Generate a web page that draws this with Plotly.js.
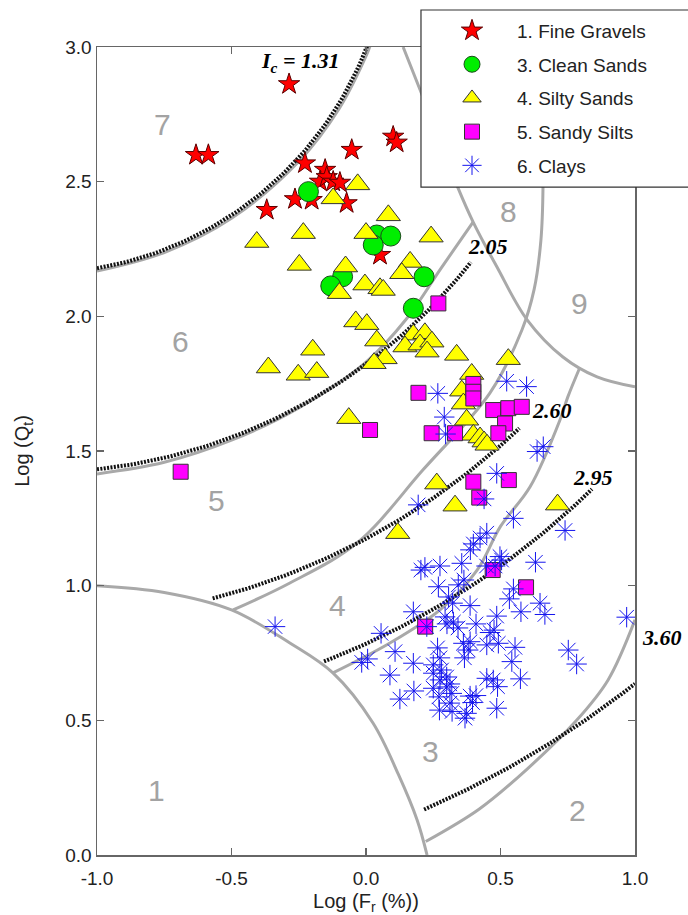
<!DOCTYPE html>
<html><head><meta charset="utf-8">
<script src="https://cdn.plot.ly/plotly-3.0.1.min.js"></script>
<style>html,body{margin:0;padding:0;background:#fff}#chart{width:688px;height:915px}</style>
</head><body><div id="chart"></div>
<script>
// ---- data ----
const gravelX = [-0.286,-0.632,-0.586,0.101,0.114,-0.053,-0.227,-0.152,-0.171,-0.146,-0.122,-0.097,-0.264,-0.202,-0.072,-0.369,0.052];
const gravelY = [2.862,2.599,2.599,2.667,2.645,2.618,2.568,2.544,2.500,2.517,2.500,2.496,2.435,2.432,2.420,2.395,2.228];

const cleanSandX = [-0.214,0.040,0.092,0.027,-0.087,-0.131,0.216,0.176];
const cleanSandY = [2.463,2.302,2.298,2.265,2.147,2.113,2.147,2.030];

const siltySandX = [-0.031,-0.122,-0.406,-0.233,0.083,0.0,0.242,-0.248,-0.076,0.164,0.133,-0.004,0.052,0.064,-0.099,-0.038,0.003,0.040,-0.198,-0.363,-0.252,-0.183,0.071,0.030,0.176,0.219,0.145,0.201,0.245,0.227,0.337,0.529,0.393,0.356,0.362,0.374,0.399,0.424,0.439,0.450,-0.064,0.263,0.331,0.118,0.712];
const siltySandY = [2.490,2.438,2.276,2.309,2.375,2.309,2.296,2.191,2.185,2.202,2.160,2.118,2.104,2.098,2.086,1.981,1.971,1.910,1.876,1.810,1.783,1.793,1.844,1.826,1.932,1.937,1.888,1.895,1.906,1.869,1.857,1.841,1.786,1.724,1.676,1.616,1.560,1.550,1.535,1.523,1.622,1.379,1.297,1.195,1.301];

const sandySiltX = [0.269,0.195,0.015,0.399,0.399,0.399,0.473,0.529,0.579,0.517,0.492,0.244,0.331,0.399,0.421,0.531,-0.689,0.471,0.595,0.220];
const sandySiltY = [2.048,1.716,1.578,1.749,1.720,1.695,1.652,1.659,1.664,1.602,1.566,1.566,1.566,1.386,1.327,1.392,1.423,1.058,0.994,0.848];

const clayX = [0.267,0.523,0.597,0.291,0.296,0.636,0.659,0.486,0.439,0.194,
  0.548,0.740,0.449,0.424,0.399,0.388,0.498,0.504,0.630,0.204,
  0.219,0.275,0.356,0.448,0.480,0.269,0.343,0.364,0.548,0.533,
  0.307,0.322,0.387,0.647,0.665,0.576,0.486,0.176,0.969,-0.338,
  0.056,0.294,0.301,0.325,0.342,0.409,0.461,0.476,0.226,0.387,
  0.492,0.554,0.752,0.783,0.542,-0.016,0.006,0.108,0.176,0.266,
  0.275,0.250,0.281,0.362,0.380,0.366,0.449,0.089,0.250,0.275,
  0.300,0.300,0.449,0.473,0.489,0.574,0.178,0.126,0.250,0.312,
  0.319,0.271,0.387,0.409,0.396,0.486,0.273,0.312,0.320,0.368,0.374];
const clayY = [1.714,1.759,1.739,1.626,1.563,1.498,1.516,1.417,1.322,1.300,
  1.250,1.205,1.195,1.177,1.155,1.133,1.108,1.095,1.087,1.058,
  1.068,1.073,1.083,1.073,1.073,0.996,1.003,1.021,0.988,0.951,
  0.958,0.935,0.926,0.935,0.893,0.903,0.887,0.903,0.883,0.848,
  0.823,0.884,0.858,0.865,0.843,0.858,0.826,0.835,0.848,0.792,
  0.786,0.771,0.761,0.709,0.718,0.715,0.728,0.755,0.712,0.769,
  0.732,0.706,0.687,0.786,0.761,0.732,0.780,0.668,0.675,0.650,
  0.661,0.624,0.656,0.650,0.625,0.654,0.609,0.579,0.619,0.635,
  0.600,0.587,0.590,0.592,0.566,0.545,0.538,0.564,0.533,0.508,0.526];

const seriesNames = ['1. Fine Gravels','3. Clean Sands','4. Silty Sands','5. Sandy Silts','6. Clays'];

// zone boundary curves
const zone7BoundX = [-1.0,-0.75,-0.5,-0.25,-0.1,0.0,0.015];
const zone7BoundY = [2.168,2.237,2.364,2.575,2.771,2.966,3.004];
const zone6BoundX = [-1.0,-0.75,-0.5,-0.25,0.0,0.15,0.28,0.398];
const zone6BoundY = [1.415,1.458,1.54,1.66,1.83,1.99,2.18,2.35];
const ncBoundX = [0.138,0.201,0.342,0.398,0.487,0.599,0.732,0.859,1.0];
const ncBoundY = [3.0,2.841,2.477,2.351,2.183,1.987,1.849,1.775,1.738];
const zone5BoundX = [-0.494,-0.283,-0.033,0.212,0.461,0.58,0.625,0.65,0.658,0.655];
const zone5BoundY = [0.91,1.01,1.159,1.43,1.716,1.95,2.1,2.28,2.48,2.7];
const zone4BoundX = [-0.123,0.089,0.275,0.413,0.5,0.61,0.721,0.75,0.795];
const zone4BoundY = [0.676,0.787,0.91,1.058,1.22,1.367,1.615,1.70,1.81];
const zone2BoundX = [0.222,0.42,0.6,0.783,0.90,1.0];
const zone2BoundY = [0.05,0.17,0.32,0.50,0.65,0.873];
const zone1BoundX = [-1.0,-0.75,-0.5,-0.283,-0.123,0.026,0.12,0.19,0.227];
const zone1BoundY = [1.0,0.975,0.91,0.787,0.676,0.49,0.30,0.13,0.0];

// Ic contour values and their drawn extents
const icValues = [1.31, 2.05, 2.60, 2.95, 3.60];
const icXStart = [-1.0, -1.0, -0.57, -0.156, 0.216];
const icXEnd   = [0.005, 0.39, 0.57, 0.84, 1.0];
const icLabels = ['<i>I<sub>c</sub></i> = 1.31','2.05','2.60','2.95','3.60'];
const icLabelX = [-0.245, 0.454, 0.691, 0.844, 1.10];
const icLabelY = [2.945, 2.261, 1.652, 1.400, 0.806];

const zoneLabels = ['1','2','3','4','5','6','7','8','9'];
const zoneLabelX = [-0.777,0.788,0.239,-0.107,-0.554,-0.691,-0.758,0.528,0.795];
const zoneLabelY = [0.241,0.167,0.384,0.928,1.318,1.907,2.711,2.388,2.049];

const xTicks = [-1.0,-0.5,0.0,0.5,1.0];
const yTicks = [0.0,0.5,1.0,1.5,2.0,2.5,3.0];

// ---- build ----
const traces = [];
const grayLine = {color:'#a9a9a9', width:3, shape:'spline'};
[[zone1BoundX,zone1BoundY],[zone2BoundX,zone2BoundY],[zone4BoundX,zone4BoundY],
 [zone5BoundX,zone5BoundY],[zone6BoundX,zone6BoundY],[zone7BoundX,zone7BoundY],
 [ncBoundX,ncBoundY]].forEach(b => {
  traces.push({x:b[0], y:b[1], mode:'lines', line:grayLine, showlegend:false, hoverinfo:'skip'});
});

icValues.forEach((ic, i) => {
  const xs = [], ys = [];
  const n = 80;
  for (let k = 0; k <= n; k++) {
    const x = icXStart[i] + (icXEnd[i] - icXStart[i]) * k / n;
    const d = ic*ic - (x + 1.22)*(x + 1.22);
    if (d < 0) continue;
    xs.push(x); ys.push(3.47 - Math.sqrt(d));
  }
  traces.push({x:xs, y:ys, mode:'lines', line:{color:'#111', width:4, dash:'2px,1.4px'}, showlegend:false, hoverinfo:'skip'});
});

const outline = {color:'#333', width:1};
traces.push({x:gravelX, y:gravelY, mode:'markers', name:seriesNames[0], legendgroup:'g1',
  marker:{symbol:'star', size:16, color:'#ff0000', line:{color:'#5a0000', width:1}}});
traces.push({x:cleanSandX, y:cleanSandY, mode:'markers', name:seriesNames[1], legendgroup:'g2',
  marker:{symbol:'circle', size:20, color:'#00ee00', line:{color:'#1a4d1a', width:1}}});
traces.push({x:siltySandX, y:siltySandY, mode:'markers', name:seriesNames[2], legendgroup:'g3',
  marker:{symbol:'triangle-up', size:21, color:'#ffff00', line:outline}});
traces.push({x:sandySiltX, y:sandySiltY, mode:'markers', name:seriesNames[3], legendgroup:'g4',
  marker:{symbol:'square', size:15, color:'#ff00ff', line:outline}});
traces.push({x:clayX, y:clayY, mode:'markers', name:seriesNames[4], legendgroup:'g5',
  marker:{symbol:'asterisk-open', size:17, color:'#1515ee', line:{color:'#1515ee', width:1}}});

const annotations = [];
zoneLabels.forEach((t,i) => annotations.push({x:zoneLabelX[i], y:zoneLabelY[i], xref:'x', yref:'y', text:t,
  showarrow:false, xanchor:'center', yanchor:'middle',
  font:{family:'Liberation Sans, Arial, sans-serif', size:30, color:'#a3a3a3'}}));
icLabels.forEach((t,i) => {
  const outside = icLabelX[i] > 1;
  annotations.push({x: outside ? 1 + (icLabelX[i] - 1) / 2 : icLabelX[i], y:icLabelY[i],
    xref: outside ? 'paper' : 'x', yref:'y', text:t, showarrow:false, xanchor:'center', yanchor:'middle',
    font:{family:'Liberation Serif, Times New Roman, serif', size:22, color:'#000', weight:'bold', style:'italic'}});
});

const axisFont = {family:'Liberation Sans, Arial, sans-serif', size:19, color:'#222'};
const layout = {
  width:688, height:915,
  margin:{l:97, r:53, t:47, b:60, autoexpand:false},
  paper_bgcolor:'#fff', plot_bgcolor:'#fff',
  showlegend:true,
  xaxis:{range:[-1,1], tickvals:xTicks, ticktext:xTicks.map(v=>v.toFixed(1)), ticks:'inside', ticklen:7, tickwidth:1.2,
    tickcolor:'#666', showline:true, linecolor:'#666', linewidth:1.5, mirror:'ticks', showgrid:false, zeroline:false,
    ticklabelstandoff:6,
    tickfont:axisFont, title:{text:'Log (F<sub>r</sub> (%))', font:{family:'Liberation Sans, Arial, sans-serif', size:20, color:'#222'}, standoff:12}},
  yaxis:{range:[0,3], tickvals:yTicks, ticktext:yTicks.map(v=>v.toFixed(1)), ticks:'inside', ticklen:7, tickwidth:1.2,
    tickcolor:'#666', showline:true, linecolor:'#666', linewidth:1.5, mirror:'ticks', showgrid:false, zeroline:false,
    tickfont:axisFont, title:{text:'Log (Q<sub>t</sub>)', font:{family:'Liberation Sans, Arial, sans-serif', size:20, color:'#222'}, standoff:30}},
  legend:{x:0.6134, y:1.0437, xanchor:'left', yanchor:'top', bgcolor:'rgba(0,0,0,0)', borderwidth:0,
    itemwidth:80, tracegroupgap:6, font:{family:'Liberation Sans, Arial, sans-serif', size:19, color:'#222'}},
  shapes:[{type:'rect', xref:'paper', yref:'paper', x0:0.6022, x1:1.2, y0:0.8267, y1:1.0458,
    fillcolor:'#fff', line:{color:'#333', width:1.2}, layer:'above'}],
  annotations:annotations
};
Plotly.newPlot('chart', traces, layout, {displayModeBar:false, staticPlot:true});
</script></body></html>
